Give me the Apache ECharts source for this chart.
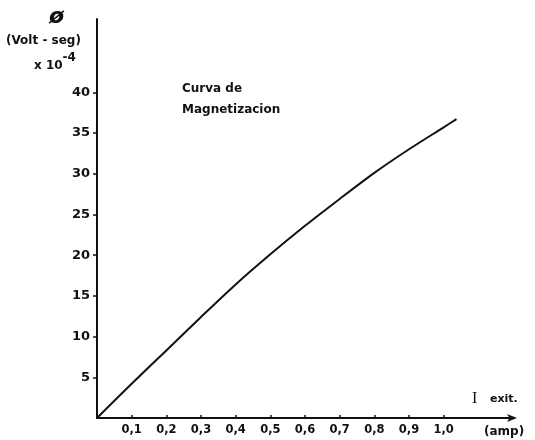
<!DOCTYPE html>
<html>
<head>
<meta charset="utf-8">
<script src="https://cdn.jsdelivr.net/npm/echarts@6/dist/echarts.min.js"></script>
<style>html,body{margin:0;padding:0;background:#fff}#c{width:535px;height:440px}</style>
</head>
<body>
<div id="c"></div>
<script>
// Exciting current (A) and flux (Volt·seg x 10^-4)
const current = [0, 0.1, 0.2, 0.3, 0.4, 0.5, 0.6, 0.7, 0.8, 0.9, 1.0, 1.037];
const flux    = [0, 4.2, 8.3, 12.4, 16.4, 20.1, 23.6, 26.9, 30.1, 33.0, 35.7, 36.7];
const xTicks = [0.1, 0.2, 0.3, 0.4, 0.5, 0.6, 0.7, 0.8, 0.9, 1.0];
const yTicks = [5, 10, 15, 20, 25, 30, 35, 40];

const chart = echarts.init(document.getElementById('c'));
const ink = '#111';
const font = 'DejaVu Sans';
chart.setOption({
  animation: false,
  backgroundColor: '#fff',
  grid: {left: 97, right: 22, top: 19, bottom: 22},
  xAxis: {
    type: 'value', min: 0, max: 1.2,
    axisLine: {show: true, lineStyle: {color: ink, width: 2}, symbol: ['none', 'arrow'], symbolSize: [6, 10], symbolOffset: [0, 4]},
    axisTick: {show: true, inside: true, length: 3, customValues: xTicks, lineStyle: {color: ink, width: 1.5}},
    axisLabel: {customValues: xTicks, color: ink, fontFamily: font, fontWeight: 'bold', fontSize: 11.5, margin: 6,
      formatter: v => v.toFixed(1).replace('.', ',')},
    splitLine: {show: false}
  },
  yAxis: {
    type: 'value', min: 0, max: 49,
    axisLine: {show: true, lineStyle: {color: ink, width: 2}},
    axisTick: {show: true, length: 4, customValues: yTicks, lineStyle: {color: ink, width: 1.5}},
    axisLabel: {customValues: yTicks, color: ink, fontFamily: font, fontWeight: 'bold', fontSize: 13, margin: 7},
    splitLine: {show: false}
  },
  series: [{
    type: 'line', smooth: 0.3, showSymbol: false,
    data: current.map((x, i) => [x, flux[i]]),
    lineStyle: {color: ink, width: 2}
  }],
  graphic: [
    {type: 'text', left: 49, top: 6, style: {text: 'ø', font: 'italic bold 22px ' + font, fill: ink}},
    {type: 'text', left: 6, top: 35, style: {text: '(Volt - seg)', font: 'bold 12px ' + font, fill: ink}},
    {type: 'text', left: 34, top: 52, style: {
      text: '{a|x 10}{b|-4}', rich: {
        a: {font: 'bold 12px ' + font, fill: ink, color: ink, padding: [8, 0, 0, 0]},
        b: {font: 'bold 12px ' + font, fill: ink, color: ink, padding: [0, 0, 8, 0]}
      }}},
    {type: 'text', left: 182, top: 83, style: {text: 'Curva de', font: 'bold 12px ' + font, fill: ink}},
    {type: 'text', left: 182, top: 104, style: {text: 'Magnetizacion', font: 'bold 12px ' + font, fill: ink}},
    {type: 'text', left: 472, top: 391, style: {text: 'I', font: '16px "Liberation Serif"', fill: ink}},
    {type: 'text', left: 490, top: 394, style: {text: 'exit.', font: 'bold 11px ' + font, fill: ink}},
    {type: 'text', left: 484, top: 426, style: {text: '(amp)', font: 'bold 12px ' + font, fill: ink}}
  ]
});
</script>
</body>
</html>
